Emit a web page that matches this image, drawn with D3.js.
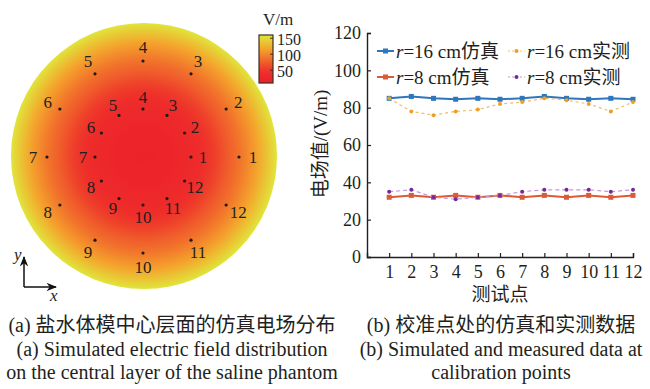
<!DOCTYPE html>
<html>
<head>
<meta charset="utf-8">
<script src="https://cdn.jsdelivr.net/npm/d3@7"></script>
<style>
  body { margin: 0; background: #fff; }
  svg { display: block; }
  text { font-family: "Liberation Serif", "Noto Sans CJK SC", serif; fill: #231f20; }
</style>
</head>
<body>
<div id="chart"></div>
<script>
// calibration points 1..12, counter-clockwise from +x
const points = [1, 2, 3, 4, 5, 6, 7, 8, 9, 10, 11, 12];
const rings = [16, 8]; // cm

// simulated field profile along the radius of the phantom (cm -> V/m)
const fieldRadius = [0, 4, 8, 12, 14, 16, 19, 22.2];
const fieldValue  = [18, 22, 32, 56, 74, 88, 116, 158];

const colorTicks = [50, 100, 150];

// right panel series
const sim16  = [85, 86, 85, 84.5, 85, 84.5, 85, 86, 85, 84.5, 85, 84.5];
const meas16 = [85, 78, 76, 78, 79, 82, 83, 85, 84, 82, 78, 83];
const sim8   = [32, 33, 32, 33, 32, 33, 32, 33, 32, 33, 32, 33];
const meas8  = [35, 36, 32, 31, 32, 33, 35, 36, 36, 36, 35, 36];
const yTicks = [0, 20, 40, 60, 80, 100, 120];

const series = [
  { name: 'r=16 cm', tag: '仿真', values: sim16,  line: '#2f76bd', mark: '#2f76bd', dash: null,  sim: true },
  { name: 'r=16 cm', tag: '实测', values: meas16, line: '#f4bd62', mark: '#e9a02c', dash: '3,3', sim: false },
  { name: 'r=8 cm',  tag: '仿真', values: sim8,   line: '#dc5a35', mark: '#dc5a35', dash: null,  sim: true },
  { name: 'r=8 cm',  tag: '实测', values: meas8,  line: '#c29ad6', mark: '#75299a', dash: '4,3', sim: false },
];

const W = 650, H = 389;
const svg = d3.select('#chart').append('svg').attr('width', W).attr('height', H);
const defs = svg.append('defs');

// ---- (a) field map ----
const cx = 144, cy = 156, R = 133;
const pxPerCm = 6;

const fieldColor = d3.scaleLinear()
  .domain([10, 45, 80, 115, 160])
  .range(['#ec1f2a', '#ee2f2a', '#f0662b', '#f4a22c', '#dfe83c'])
  .clamp(true);

const rg = defs.append('radialGradient').attr('id', 'field')
  .attr('gradientUnits', 'userSpaceOnUse')
  .attr('cx', cx).attr('cy', cy).attr('r', R);
const rMax = fieldRadius[fieldRadius.length - 1];
const prof = d3.scaleLinear().domain(fieldRadius).range(fieldValue);
d3.range(0, 1.0001, 0.05).forEach(f => {
  rg.append('stop').attr('offset', f).attr('stop-color', fieldColor(prof(f * rMax)));
});

svg.append('circle').attr('cx', cx).attr('cy', cy).attr('r', R).attr('fill', 'url(#field)');

const dotsG = svg.append('g');
rings.forEach(rc => {
  points.forEach(p => {
    const a = (p - 1) * Math.PI / 6;
    const x = cx - 1 + Math.cos(a) * rc * pxPerCm;
    const y = cy + 1 - Math.sin(a) * rc * pxPerCm;
    dotsG.append('circle').attr('cx', x).attr('cy', y).attr('r', 1.6).attr('fill', '#1a1a1a');
    const off = rc > 10 ? 14 : 12;
    dotsG.append('text')
      .attr('x', x + Math.cos(a) * off)
      .attr('y', y - Math.sin(a) * off)
      .attr('text-anchor', 'middle')
      .attr('dominant-baseline', 'central')
      .style('font-size', '17px')
      .text(p);
  });
});

// colour bar
const cbX = 259, cbW = 14;
const cbY = d3.scaleLinear().domain([10, 160]).range([83, 35]);
const lg = defs.append('linearGradient').attr('id', 'cbar')
  .attr('x1', 0).attr('y1', 1).attr('x2', 0).attr('y2', 0);
d3.range(0, 1.0001, 0.1).forEach(f => {
  lg.append('stop').attr('offset', f).attr('stop-color', fieldColor(10 + f * 150));
});
svg.append('rect').attr('x', cbX).attr('y', cbY(160)).attr('width', cbW)
  .attr('height', cbY(10) - cbY(160)).attr('fill', 'url(#cbar)')
  .attr('stroke', '#3a3020').attr('stroke-width', 1.2);
colorTicks.forEach(v => {
  svg.append('line').attr('x1', cbX + cbW - 3).attr('x2', cbX + cbW)
    .attr('y1', cbY(v)).attr('y2', cbY(v)).attr('stroke', '#3a3020');
  svg.append('text').attr('x', cbX + cbW + 4).attr('y', cbY(v) + 1)
    .attr('dominant-baseline', 'central').style('font-size', '16px').text(v);
});
svg.append('text').attr('x', 278).attr('y', 19).attr('text-anchor', 'middle')
  .attr('dominant-baseline', 'central').style('font-size', '17px').text('V/m');

// x / y arrows
defs.append('marker').attr('id', 'arr').attr('viewBox', '0 0 10 10')
  .attr('refX', 9).attr('refY', 5).attr('markerWidth', 7).attr('markerHeight', 7)
  .attr('orient', 'auto')
  .append('path').attr('d', 'M0,1 L10,5 L0,9 L3,5 Z').attr('fill', '#111');
svg.append('line').attr('x1', 24).attr('y1', 287).attr('x2', 24).attr('y2', 257)
  .attr('stroke', '#111').attr('stroke-width', 1.5).attr('marker-end', 'url(#arr)');
svg.append('line').attr('x1', 24).attr('y1', 287).attr('x2', 56).attr('y2', 287)
  .attr('stroke', '#111').attr('stroke-width', 1.5).attr('marker-end', 'url(#arr)');
svg.append('text').attr('x', 14).attr('y', 260).style('font-size', '17px')
  .style('font-style', 'italic').text('y');
svg.append('text').attr('x', 50).attr('y', 301).style('font-size', '17px')
  .style('font-style', 'italic').text('x');

// ---- (b) calibration data ----
const x = d3.scaleLinear().domain([0, 12]).range([367, 633]);
const y = d3.scaleLinear().domain([0, 120]).range([257, 33]);

const yAxis = d3.axisLeft(y).tickValues(yTicks).tickSize(-4).tickPadding(6);
const xAxis = d3.axisBottom(x).tickValues(points).tickSize(-4).tickPadding(8);

const gy = svg.append('g').attr('transform', `translate(${x(0)},0)`).call(yAxis);
const gx = svg.append('g').attr('transform', `translate(0,${y(0)})`).call(xAxis);
[gx, gy].forEach(g => {
  g.select('.domain').attr('stroke', '#231f20').attr('stroke-width', 1.4);
  g.selectAll('.tick line').attr('stroke', '#231f20').attr('stroke-width', 1.2);
  g.selectAll('.tick text').style('font-size', '18px').style('font-family', '"Liberation Serif", serif').attr('fill', '#231f20');
});

const line = d3.line().x((d, i) => x(points[i])).y(d => y(d));

series.forEach(s => {
  const g = svg.append('g');
  g.append('path').datum(s.values).attr('d', line).attr('fill', 'none')
    .attr('stroke', s.line).attr('stroke-width', s.sim ? 2 : 1.2)
    .attr('stroke-dasharray', s.dash);
  if (s.sim) {
    g.selectAll('rect').data(s.values).enter().append('rect')
      .attr('x', (d, i) => x(points[i]) - 2.5).attr('y', d => y(d) - 2.5)
      .attr('width', 5).attr('height', 5).attr('fill', s.mark);
  } else {
    g.selectAll('circle').data(s.values).enter().append('circle')
      .attr('cx', (d, i) => x(points[i])).attr('cy', d => y(d))
      .attr('r', 2).attr('fill', s.mark);
  }
});

// legend
const legPos = [[377, 51], [508, 51], [377, 77], [508, 77]];
series.forEach((s, i) => {
  const [lx, ly] = legPos[i];
  const g = svg.append('g').attr('transform', `translate(${lx},${ly})`);
  g.append('line').attr('x1', 0).attr('x2', 17).attr('y1', 0).attr('y2', 0)
    .attr('stroke', s.line).attr('stroke-width', s.sim ? 2 : 1.2)
    .attr('stroke-dasharray', s.dash ? '2,2' : null);
  if (s.sim) {
    g.append('rect').attr('x', 6).attr('y', -2.5).attr('width', 5).attr('height', 5).attr('fill', s.mark);
  } else {
    g.append('circle').attr('cx', 8.5).attr('cy', 0).attr('r', 2).attr('fill', s.mark);
  }
  const t = g.append('text').attr('x', 19).attr('y', 0).attr('dominant-baseline', 'central')
    .style('font-size', '19px');
  t.append('tspan').style('font-style', 'italic').text('r');
  t.append('tspan').text(s.name.slice(1) + s.tag);
});

svg.append('text')
  .attr('transform', 'translate(320,144) rotate(-90)')
  .attr('text-anchor', 'middle').attr('dominant-baseline', 'central')
  .style('font-size', '19px').text('电场值/(V/m)');
svg.append('text').attr('x', 500).attr('y', 294).attr('text-anchor', 'middle')
  .attr('dominant-baseline', 'central').style('font-size', '19px').text('测试点');

// captions
const capA = ['(a) 盐水体模中心层面的仿真电场分布', '(a) Simulated electric field distribution', 'on the central layer of the saline phantom'];
const capB = ['(b) 校准点处的仿真和实测数据', '(b) Simulated and measured data at', 'calibration points'];
const capY = [325, 349, 372];
[[capA, 172], [capB, 501]].forEach(([lines, mx]) => {
  lines.forEach((txt, i) => {
    svg.append('text').attr('x', mx).attr('y', capY[i]).attr('text-anchor', 'middle')
      .attr('dominant-baseline', 'central').style('font-size', '20px').text(txt);
  });
});
</script>
</body>
</html>
